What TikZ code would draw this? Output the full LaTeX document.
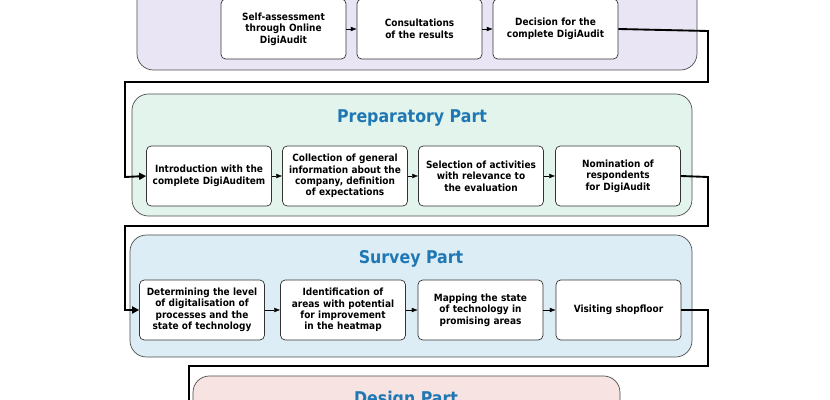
\documentclass[tikz,border=0pt]{standalone}
\usepackage{fontspec}
\setmainfont{DejaVu Sans Condensed}
\usetikzlibrary{arrows.meta,positioning}
\hyphenpenalty=10000
\exhyphenpenalty=10000

\definecolor{lavender}{HTML}{E9E5F5}
\definecolor{mint}{HTML}{E3F4EC}
\definecolor{skyish}{HTML}{DCEDF5}
\definecolor{rosy}{HTML}{F7E4E2}
\definecolor{titleblue}{HTML}{1F78B4}

\begin{document}
\begin{tikzpicture}[
    x=0.03cm, y=-0.03cm,
    line width=0.6pt,
     panel/.style = {draw=black!70, rounded corners=14pt},
  stepbox/.style = {draw=black!80, fill=white, rounded corners=4pt,
                    minimum height=1.8cm, minimum width=3.75cm, text width=3.6cm, align=center,
                    font=\bfseries\fontsize{8.5}{9.8}\selectfont, inner sep=1pt},
    title/.style = {text=titleblue, font=\bfseries\fontsize{15}{17}\selectfont},
     link/.style = {-{Latex[length=5pt,width=4pt]}, line width=0.35pt},
     flow/.style = {line width=1.6pt, -{Triangle[length=6pt,width=6pt]}}
    ]
\useasboundingbox (0,0) rectangle (830,400);
\begin{scope}
\clip (0,0) rectangle (830,400);
% panels
\draw[panel, fill=lavender] (137,-40) rectangle (697,70);
\draw[panel, fill=mint]     (132,94) rectangle (692,216);
\draw[panel, fill=skyish]   (130,235) rectangle (692,357);
\draw[panel, fill=rosy]     (193,376) rectangle (620,470);
\node[title] (tprep) at (412,118) {Preparatory Part};
\node[title] (tsurv) at (411,259) {Survey Part};
\node[title] (tdes)  at (406,400) {Design Part};
% first row
\node[stepbox] (a1) at (283.5,29) {Self-assessment\\ through Online\\ DigiAudit};
\node[stepbox] (a2) at (419.5,29) {Consultations of the results};
\node[stepbox] (a3) at (555.5,29) {Decision for the complete DigiAudit};
% preparatory part
\node[stepbox] (b1) at (209,176) {Introduction with the complete DigiAuditem};
\node[stepbox] (b2) at (345,176) {Collection of general information about the company, definition of expectations};
\node[stepbox] (b3) at (481,176) {Selection of activities with relevance to the evaluation};
\node[stepbox] (b4) at (618,176) {Nomination of respondents for DigiAudit};
% survey part
\node[stepbox] (c1) at (202,310) {Determining the level of digitalisation of processes and the state of technology};
\node[stepbox] (c2) at (343,310) {Identification of areas with potential for improvement in the heatmap};
\node[stepbox] (c3) at (480.5,310) {Mapping the state of technology in promising areas};
\node[stepbox] (c4) at (618.5,310) {Visiting shopfloor};
\coordinate (next) at (189,420);
%
\draw[link] (a1) -- (a2);
\draw[link] (a2) -- (a3);
\draw[link] (b1) -- (b2);
\draw[link] (b2) -- (b3);
\draw[link] (b3) -- (b4);
\draw[link] (c1) -- (c2);
\draw[link] (c2) -- (c3);
\draw[link] (c3) -- (c4);
\draw[flow] (a3.east) -- (708,31) -- (708,82) -- (125,82) -- (125,177) -- (b1.west);
\draw[flow] (b4.east) -- (708,177) -- (708,226) -- (125,226) -- (125,310) -- (c1.west);
\draw[flow] (c4.east) -- (708,310) -- (708,366) -- (189,366) -- (next);
\end{scope}
\end{tikzpicture}
\end{document}
